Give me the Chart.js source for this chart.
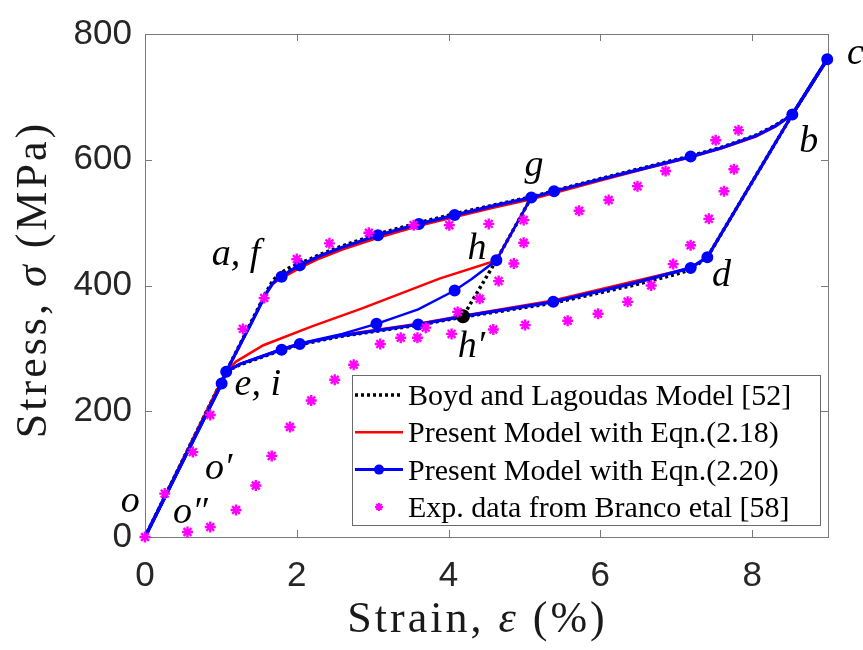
<!DOCTYPE html>
<html>
<head>
<meta charset="utf-8">
<script src="https://cdn.jsdelivr.net/npm/chart.js@4"></script>
<style>
  html, body { margin: 0; padding: 0; background: #fff; }
  canvas { display: block; }
</style>
</head>
<body>
<canvas id="chart" width="863" height="650"></canvas>
<script>
// Strain (%) / stress (MPa)

// Boyd and Lagoudas model
const blackLoadX = [0, 1.07, 1.6, 1.68, 1.76, 1.9, 2.04, 2.3, 2.6, 3.07, 3.61, 4.08, 4.6, 5.09, 6.0, 7.19, 7.6, 8.05, 8.31, 8.53, 8.99];
const blackLoadY = [0, 263, 390, 407, 418, 428, 435, 449, 463, 482, 500, 514, 528, 541, 570, 606, 620, 639, 655, 672, 760];
const blackUnloadX = [8.99, 8.53, 7.41, 7.19, 7.0, 6.42, 5.38, 4.19, 3.6, 2.57, 2.04, 1.8, 1.25, 1.07, 0];
const blackUnloadY = [760, 672, 445, 425, 418, 400, 372, 350, 337, 319, 306, 297, 274, 263, 0];
const blackInnerX = [5.09, 4.63, 4.19];
const blackInnerY = [540, 440, 351];
const blackDotX = [4.19];
const blackDotY = [351];

// Present model, Eqn (2.18)
const redLoadX = [0, 1.07, 1.4, 1.6, 1.68, 1.76, 1.85, 2.04, 2.3, 2.6, 3.07, 3.61, 4.08, 4.6, 5.09, 5.39, 6.0, 6.6, 7.19, 7.6, 8.05, 8.31, 8.53, 8.99];
const redLoadY = [0, 263, 340, 388, 402, 409, 415, 428, 443, 457, 476, 495, 509, 524, 537, 547, 567, 586, 604, 618, 637, 653, 672, 760];
const redUnloadX = [8.99, 8.53, 7.41, 7.19, 6.42, 5.38, 4.19, 3.6, 2.57, 2.04, 1.8, 1.25, 1.07, 0];
const redUnloadY = [760, 672, 445, 428, 406, 376, 352, 339, 321, 307, 298, 275, 263, 0];
const redInnerX = [5.09, 4.63, 3.88, 2.87, 2.2, 1.56, 1.2, 1.07];
const redInnerY = [540, 440, 411, 364, 335, 305, 279, 263];

// Present model, Eqn (2.20)
const blueLoadX = [0, 1.01, 1.07, 1.4, 1.6, 1.68, 1.74, 1.8, 1.92, 2.04, 2.3, 2.6, 3.07, 3.61, 4.08, 4.6, 5.09, 5.39, 6.0, 6.6, 7.19, 7.6, 8.05, 8.31, 8.53, 8.99];
const blueLoadY = [0, 244, 263, 340, 388, 403, 410, 414, 424, 432, 447, 461, 480, 498, 512, 527, 540, 550, 569, 587, 605, 619, 638, 654, 672, 760];
const blueUnloadX = [8.99, 8.53, 7.41, 7.19, 6.42, 5.38, 4.19, 3.6, 2.57, 2.04, 1.8, 1.25, 1.07, 1.01, 0];
const blueUnloadY = [760, 672, 445, 428, 403, 374, 351, 338, 320, 307, 298, 275, 263, 244, 0];
const blueInnerX = [5.09, 4.63, 4.3, 4.08, 3.6, 3.05, 2.6, 2.04, 1.8, 1.25, 1.07];
const blueInnerY = [540, 440, 410, 392, 362, 339, 323, 308, 299, 275, 263];
const blueDotX = [1.01, 1.07, 1.8, 2.04, 3.07, 3.61, 4.08, 5.09, 5.39, 7.19, 8.53, 8.99, 7.41, 7.19, 5.38, 3.6, 2.04, 1.8, 3.05, 4.08, 4.63];
const blueDotY = [244, 263, 414, 432, 480, 498, 512, 540, 550, 605, 672, 760, 445, 428, 374, 338, 307, 298, 339, 392, 440];

// Experimental data, Branco et al
const expX = [0, 0.26, 0.63, 0.86, 1.29, 1.57, 2.0, 2.43, 2.95, 3.54, 4.01, 4.53, 4.99, 4.99, 4.86, 4.66, 4.41, 4.12, 3.7, 5.72, 6.11, 6.49, 6.86, 7.52, 7.82, 7.76, 7.63, 7.43, 7.19, 6.96, 6.67, 6.36, 5.97, 5.57, 5.01, 4.59, 4.04, 3.59, 3.37, 3.1, 2.75, 2.5, 2.19, 1.91, 1.67, 1.46, 1.2, 0.86, 0.56];
const expY = [0, 69, 135, 194, 331, 380, 442, 467, 484, 496, 496, 498, 504, 468, 435, 407, 379, 358, 333, 519, 536, 558, 582, 631, 647, 585, 550, 506, 464, 434, 400, 374, 355, 344, 337, 330, 323, 317, 317, 307, 274, 250, 217, 175, 129, 82, 43, 16, 8];

const xTicks = [0, 2, 4, 6, 8];
const yTicks = [0, 200, 400, 600, 800];

const legendLabels = [
  'Boyd and Lagoudas Model [52]',
  'Present Model with Eqn.(2.18)',
  'Present Model with Eqn.(2.20)',
  'Exp. data from Branco etal [58]'
];

// axis titles as [text, italic] pieces
const xTitle = [['Strain, ', false], ['\u03b5', true], [' (%)', false]];
const yTitle = [['Stress, ', false], ['\u03c3', true], [' (MPa)', false]];

// point labels on the curves (text, strain, stress at the text baseline)
const pointLabels = [
  ['o', -0.32, 39], ['o\u2032', 0.79, 93], ['o\u2033', 0.37, 22],
  ['e, i', 1.18, 226], ['a, f', 0.88, 433], ['g', 5.0, 574],
  ['h', 4.25, 442], ['h\u2032', 4.12, 286], ['d', 7.47, 400],
  ['b', 8.62, 613], ['c', 9.25, 753]
];

const BLACK = '#000000', RED = '#ff0000', BLUE = '#0000ff', MAGENTA = '#ff00ff';

function pts(xs, ys) {
  return xs.map((x, i) => ({ x: x, y: ys[i] }));
}

function lineSet(xs, ys, color, width, dash, order) {
  return {
    data: pts(xs, ys),
    showLine: true,
    borderColor: color,
    backgroundColor: color,
    borderWidth: width,
    borderDash: dash,
    pointRadius: 0,
    tension: 0,
    clip: false,
    order: order
  };
}

function dotSet(xs, ys, color, style, radius, width, order) {
  return {
    data: pts(xs, ys),
    showLine: false,
    pointStyle: style,
    pointRadius: radius,
    borderColor: color,
    backgroundColor: color,
    borderWidth: width,
    clip: false,
    order: order
  };
}

const datasets = [
  lineSet(blackLoadX, blackLoadY, BLACK, 3.5, [3, 3], 5),
  lineSet(blackUnloadX, blackUnloadY, BLACK, 3.5, [3, 3], 5),
  lineSet(blackInnerX, blackInnerY, BLACK, 3.5, [3, 3], 5),
  lineSet(redLoadX, redLoadY, RED, 2.5, [], 4),
  lineSet(redUnloadX, redUnloadY, RED, 2.5, [], 4),
  lineSet(redInnerX, redInnerY, RED, 2.5, [], 4),
  lineSet(blueLoadX, blueLoadY, BLUE, 3.2, [], 3),
  lineSet(blueUnloadX, blueUnloadY, BLUE, 3.2, [], 3),
  lineSet(blueInnerX, blueInnerY, BLUE, 2.5, [], 3),
  dotSet(blueDotX, blueDotY, BLUE, 'circle', 5, 2, 2),
  dotSet(blackDotX, blackDotY, BLACK, 'circle', 6, 2, 1),
  dotSet(expX, expY, MAGENTA, 'star', 5.5, 2.4, 0)
];

// draw a title made of upright / italic pieces, centred on (0,0)
function drawPieces(ctx, pieces, size) {
  const fontOf = it => (it ? 'italic ' : '') + size + 'px "Liberation Serif"';
  let total = 0;
  pieces.forEach(([t, it]) => { ctx.font = fontOf(it); total += ctx.measureText(t).width; });
  let x = -total / 2;
  ctx.textAlign = 'left';
  pieces.forEach(([t, it]) => {
    ctx.font = fontOf(it);
    ctx.fillText(t, x, 0);
    x += ctx.measureText(t).width;
  });
}

// box, inward tick marks and axis titles
const framePlugin = {
  id: 'frame',
  beforeDatasetsDraw(chart) {
    const { ctx, chartArea: a, scales: { x, y } } = chart;
    ctx.save();
    ctx.strokeStyle = '#7a7a7a';
    ctx.lineWidth = 1;
    ctx.strokeRect(a.left + 0.5, a.top + 0.5, a.right - a.left, a.bottom - a.top);
    ctx.beginPath();
    xTicks.forEach(v => {
      const px = Math.round(x.getPixelForValue(v)) + 0.5;
      ctx.moveTo(px, a.bottom); ctx.lineTo(px, a.bottom - 7);
      ctx.moveTo(px, a.top); ctx.lineTo(px, a.top + 7);
    });
    yTicks.forEach(v => {
      const py = Math.round(y.getPixelForValue(v)) + 0.5;
      ctx.moveTo(a.left, py); ctx.lineTo(a.left + 7, py);
      ctx.moveTo(a.right, py); ctx.lineTo(a.right - 7, py);
    });
    ctx.stroke();

    ctx.fillStyle = '#1a1a1a';
    ctx.letterSpacing = '3px';
    ctx.textBaseline = 'alphabetic';
    ctx.save();
    ctx.translate((a.left + a.right) / 2 - 9, 632);
    drawPieces(ctx, xTitle, 44);
    ctx.restore();
    ctx.translate(46, (a.top + a.bottom) / 2 - 6);
    ctx.rotate(-Math.PI / 2);
    drawPieces(ctx, yTitle, 44);
    ctx.restore();
  }
};

// legend box and point labels
const legendPlugin = {
  id: 'boxLegend',
  afterDatasetsDraw(chart) {
    const { ctx, chartArea: a } = chart;
    const w = 468, h = 150;
    const left = a.right - 8 - w, top = a.bottom - 12 - h;
    ctx.save();
    ctx.fillStyle = '#ffffff';
    ctx.fillRect(left, top, w, h);
    ctx.strokeStyle = '#6a6a6a';
    ctx.lineWidth = 1;
    ctx.strokeRect(left + 0.5, top + 0.5, w, h);

    const x0 = left + 3, x1 = left + 51, xm = (x0 + x1) / 2;
    legendLabels.forEach((label, i) => {
      const cy = top + 20 + i * 37.3;
      ctx.save();
      if (i === 0) {
        ctx.strokeStyle = BLACK; ctx.lineWidth = 3.5; ctx.setLineDash([3, 3]);
        ctx.beginPath(); ctx.moveTo(x0, cy); ctx.lineTo(x1, cy); ctx.stroke();
      } else if (i === 1) {
        ctx.strokeStyle = RED; ctx.lineWidth = 2.5;
        ctx.beginPath(); ctx.moveTo(x0, cy); ctx.lineTo(x1, cy); ctx.stroke();
      } else if (i === 2) {
        ctx.strokeStyle = BLUE; ctx.fillStyle = BLUE; ctx.lineWidth = 3;
        ctx.beginPath(); ctx.moveTo(x0, cy); ctx.lineTo(x1, cy); ctx.stroke();
        ctx.beginPath(); ctx.arc(xm, cy, 5, 0, Math.PI * 2); ctx.fill();
      } else {
        ctx.strokeStyle = MAGENTA; ctx.lineWidth = 2;
        Chart.helpers.drawPoint(ctx, { pointStyle: 'star', radius: 4, borderWidth: 2 }, xm, cy);
      }
      ctx.restore();
      ctx.fillStyle = '#000';
      ctx.font = '30px "Liberation Serif"';
      ctx.textAlign = 'left';
      ctx.textBaseline = 'alphabetic';
      ctx.fillText(label, left + 56, cy + 10);
    });
    ctx.restore();
  },
  afterDraw(chart) {
    const { ctx, scales: { x, y } } = chart;
    ctx.save();
    ctx.fillStyle = '#000';
    ctx.font = 'italic 38px "Liberation Serif"';
    ctx.textAlign = 'left';
    ctx.textBaseline = 'alphabetic';
    pointLabels.forEach(([t, sx, sy]) => {
      ctx.fillText(t, x.getPixelForValue(sx), y.getPixelForValue(sy));
    });
    ctx.restore();
  }
};

new Chart(document.getElementById('chart'), {
  type: 'scatter',
  data: { datasets: datasets },
  options: {
    responsive: false,
    animation: false,
    layout: { padding: { left: 0, right: 35, top: 23, bottom: 0 } },
    plugins: { legend: { display: false }, tooltip: { enabled: false } },
    scales: {
      x: {
        type: 'linear',
        min: 0,
        max: 9,
        afterFit: s => { s.height = 113; },
        afterBuildTicks: s => { s.ticks = xTicks.map(v => ({ value: v })); },
        grid: { display: false, drawTicks: false },
        border: { display: false },
        ticks: {
          font: { family: '"Liberation Sans"', size: 35 },
          color: '#262626',
          padding: 18,
          maxRotation: 0
        }
      },
      y: {
        type: 'linear',
        min: 0,
        max: 800,
        afterFit: s => { s.width = 145; },
        afterBuildTicks: s => { s.ticks = yTicks.map(v => ({ value: v })); },
        grid: { display: false, drawTicks: false },
        border: { display: false },
        ticks: {
          font: { family: '"Liberation Sans"', size: 35 },
          color: '#262626',
          padding: 13
        }
      }
    }
  },
  plugins: [framePlugin, legendPlugin]
});
</script>
</body>
</html>
